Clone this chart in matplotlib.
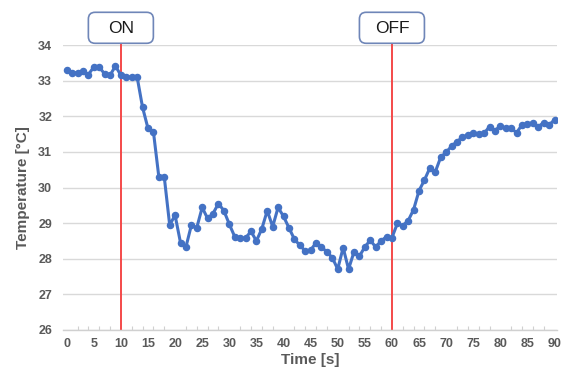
import matplotlib
matplotlib.use("Agg")
import matplotlib.pyplot as plt
from matplotlib.patches import FancyBboxPatch

time_s = list(range(0, 91))
temperature = [
    33.30, 33.22, 33.22, 33.27, 33.17, 33.38, 33.38, 33.19, 33.15, 33.41,
    33.15, 33.10, 33.10, 33.10, 32.25, 31.66, 31.57, 30.30, 30.30, 28.95,
    29.22, 28.45, 28.33, 28.94, 28.87, 29.44, 29.13, 29.27, 29.55, 29.35,
    28.97, 28.62, 28.58, 28.58, 28.77, 28.50, 28.84, 29.35, 28.90, 29.44,
    29.19, 28.87, 28.55, 28.38, 28.22, 28.24, 28.45, 28.33, 28.19, 28.03,
    27.71, 28.31, 27.71, 28.19, 28.07, 28.33, 28.52, 28.33, 28.50, 28.62,
    28.59, 28.99, 28.93, 29.07, 29.38, 29.91, 30.21, 30.55, 30.44, 30.85,
    30.99, 31.16, 31.29, 31.41, 31.48, 31.52, 31.49, 31.52, 31.71, 31.60,
    31.73, 31.66, 31.66, 31.54, 31.76, 31.78, 31.82, 31.71, 31.82, 31.76,
    31.90,
]
event_times = [10, 60]
event_labels = ["ON", "OFF"]
x_ticklabels = list(range(0, 91, 5))
y_ticks = list(range(26, 35))

plt.rcParams['font.family'] = ['Liberation Sans', 'DejaVu Sans']

W, H = 561, 370
fig = plt.figure(figsize=(W/100, H/100), dpi=100)
ax = fig.add_axes([63.3/W, 1-330/H, (557-63.3)/W, (330-45)/H])

ax.set_xlim(-0.62, 90.45)
ax.set_ylim(26, 34)

ax.set_yticks(y_ticks)
ax.grid(axis='y', color='#d9d9d9', linewidth=1.0)
ax.set_axisbelow(True)

for s in ['left', 'right', 'top']:
    ax.spines[s].set_visible(False)
ax.spines['bottom'].set_color('#d0d0d0')
ax.spines['bottom'].set_linewidth(1.0)

ax.set_xticks(x_ticklabels)
ax.set_xticks(range(0, 91, 2), minor=True)
ax.tick_params(axis='x', which='major', length=0, pad=6, labelsize=9,
               labelcolor='#595959')
ax.tick_params(axis='x', which='minor', length=3, direction='in',
               color='#d0d0d0', width=0.8)
ax.tick_params(axis='y', length=0, pad=8, labelsize=9, labelcolor='#595959')
for lbl in ax.get_xticklabels() + ax.get_yticklabels():
    lbl.set_fontweight('bold')

ax.set_xlabel('Time [s]', fontsize=11, fontweight='bold', color='#595959',
              labelpad=2)
ax.set_ylabel('Temperature [°C]', fontsize=11, fontweight='bold',
              color='#595959', labelpad=6)

# event lines and labels
box_w, box_h = 65, 31
box_top = 12.3
for t, lab in zip(event_times, event_labels):
    ax.axvline(t, ymin=0, ymax=(330-43)/(330-45), color='#f44a4a',
               linewidth=1.4, clip_on=False, zorder=2)
    xc = ax.transData.transform((t, 26))[0]
    x0 = (xc - box_w/2) / W
    y0 = 1 - (box_top + box_h) / H
    patch = FancyBboxPatch((x0, y0), box_w/W, box_h/H,
                           boxstyle='round,pad=0,rounding_size=0.012',
                           transform=fig.transFigure, facecolor='white',
                           edgecolor='#6f86b8', linewidth=1.2, zorder=5,
                           mutation_aspect=W/H)
    fig.add_artist(patch)
    fig.text(xc/W, 1 - (box_top + box_h/2 + 0.5)/H, lab, ha='center',
             va='center', fontsize=12.5, color='#1a1a1a', zorder=6)

ax.plot(time_s, temperature, color='#4472c4', linewidth=2.2, marker='o',
        markersize=4.4, markerfacecolor='#4472c4', markeredgecolor='#4472c4',
        zorder=3)

fig.savefig('out.png', dpi=100)
